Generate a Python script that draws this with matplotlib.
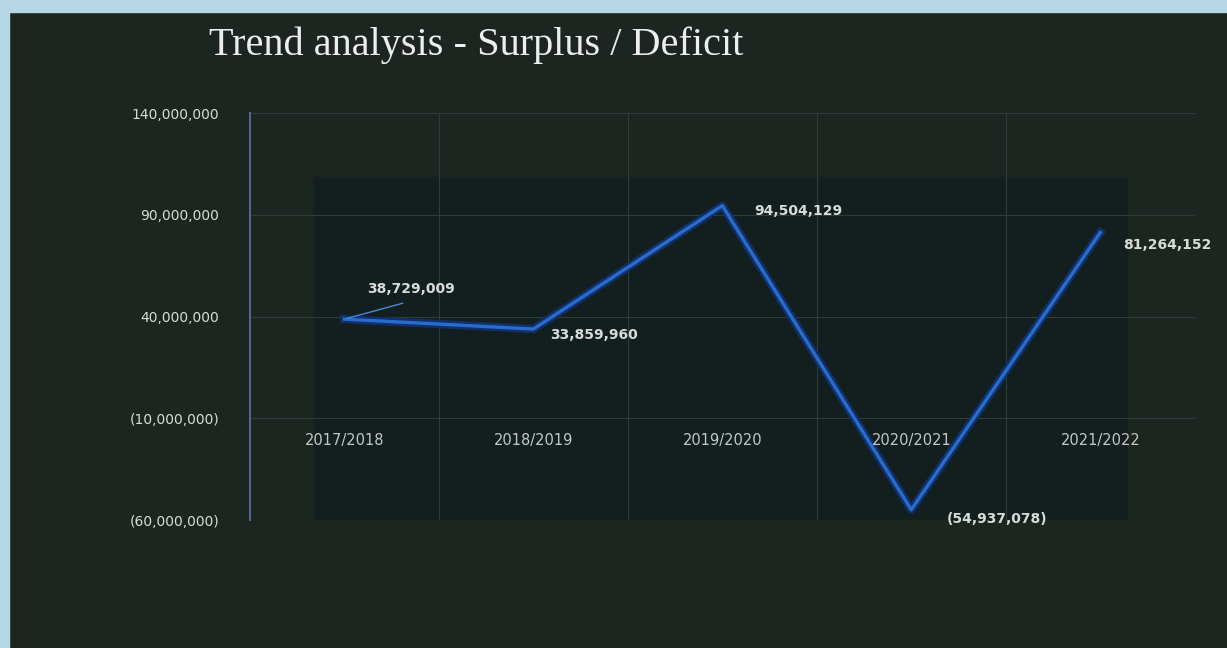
import matplotlib.pyplot as plt
from matplotlib.patches import Rectangle
from matplotlib.ticker import FuncFormatter
import matplotlib.patheffects as pe

years = ['2017/2018', '2018/2019', '2019/2020', '2020/2021', '2021/2022']
surplus = [38729009, 33859960, 94504129, -54937078, 81264152]
yticks = [-60000000, -10000000, 40000000, 90000000, 140000000]

bg = '#1c2520'
txt = '#d8dcd8'

fig = plt.figure(figsize=(12.27, 6.48), dpi=100, facecolor=bg)

# light blue frame of the screen at top and left
fig.patches.append(Rectangle((0, 0.982), 1, 0.018, transform=fig.transFigure,
                             color='#b6d6e6', zorder=0))
fig.patches.append(Rectangle((0, 0), 0.007, 1, transform=fig.transFigure,
                             color='#b6d6e6', zorder=0))

ax = fig.add_axes([0.2037, 0.1975, 0.770, 0.628])
ax.set_facecolor(bg)

# darker inner panel
ax.add_patch(Rectangle((0.068, -0.012), 0.86, 0.855, transform=ax.transAxes,
                       color='#131e1e', zorder=0))

x = list(range(len(years)))
ax.plot(x, surplus, color='#2a6ccc', linewidth=2.4, zorder=3,
        path_effects=[pe.Stroke(linewidth=6, foreground='#10306a'), pe.Normal()])

ax.set_xlim(-0.5, 4.5)
ax.set_ylim(-60000000, 140000000)
ax.set_yticks(yticks)

def money(v, pos=None):
    if v < 0:
        return '({:,.0f})'.format(-v)
    return '{:,.0f}'.format(v)

ax.yaxis.set_major_formatter(FuncFormatter(money))
ax.tick_params(axis='y', colors=txt, labelsize=10, length=0, pad=22)
ax.set_xticks([])

for v in yticks:
    ax.axhline(v, color='#2f3c37', linewidth=0.8, zorder=1)
for b in [0.5, 1.5, 2.5, 3.5]:
    ax.axvline(b, color='#2f3c37', linewidth=0.8, zorder=1)

for s in ['top', 'right', 'bottom']:
    ax.spines[s].set_visible(False)
ax.spines['left'].set_color('#55648a')
ax.spines['left'].set_linewidth(1.5)

# category labels below the zero line
for i, yr in enumerate(years):
    ax.annotate(yr, (i, 0), xytext=(0, -31), textcoords='offset points',
                ha='center', va='center', color='#c4c8c4', fontsize=10.5)

# data labels
offsets = [(48, 22), (44, -4), (55, -4), (62, -7), (48, -9)]
for i, v in enumerate(surplus):
    ax.annotate(money(v), (i, v), xytext=offsets[i], textcoords='offset points',
                ha='center', va='center', color=txt, fontsize=10, fontweight='bold')
ax.annotate('', (0, surplus[0]), xytext=(44, 12), textcoords='offset points',
            arrowprops=dict(arrowstyle='-', color='#4a8ad8', lw=1))

fig.text(0.17, 0.93, 'Trend analysis - Surplus / Deficit', color='#eeeeee',
         fontsize=29, family='Liberation Serif', va='center')

fig.savefig('out.png', dpi=100, facecolor=bg)
